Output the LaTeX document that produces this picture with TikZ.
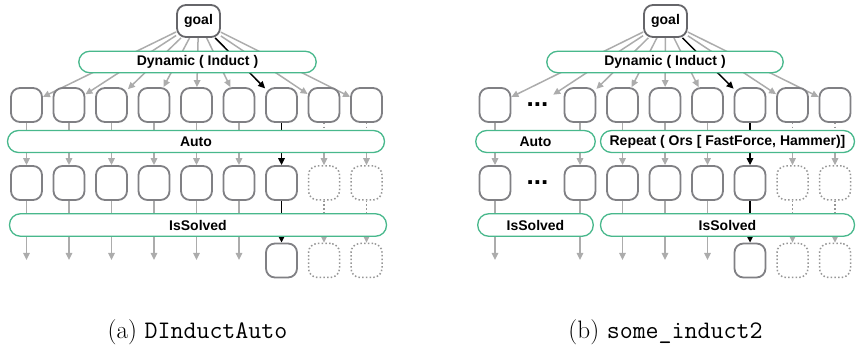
\documentclass[tikz,border=0pt]{standalone}
\usepackage{fontspec}
\setsansfont{Liberation Sans}
\usetikzlibrary{arrows.meta}
\definecolor{bargreen}{RGB}{72,184,140}
\definecolor{boxgray}{RGB}{128,128,132}
\definecolor{arrgray}{RGB}{172,172,172}
\definecolor{dotgray}{RGB}{150,150,150}
\pgfdeclarelayer{bg}
\pgfsetlayers{bg,main}
\begin{document}
\begin{tikzpicture}[x=1pt,y=-1pt,
 box/.style={draw=boxgray, line width=1.8pt, rounded corners=9pt, minimum width=31pt, minimum height=34pt, inner sep=0pt, fill=white},
 dbox/.style={draw=dotgray, line width=1.5pt, dash pattern=on 1.5pt off 2.2pt, rounded corners=9pt, minimum width=31pt, minimum height=34pt, inner sep=0pt},
 hid/.style={minimum width=31pt, minimum height=34pt, inner sep=0pt, font=\sffamily\bfseries\fontsize{26}{28}\selectfont},
 goalbox/.style={draw=boxgray!80!black, line width=1.8pt, rounded corners=9pt, minimum width=43pt, minimum height=32pt, inner sep=0pt, fill=white, font=\sffamily\bfseries\fontsize{14}{16}\selectfont},
 bar/.style={draw=bargreen, line width=1.3pt, rounded corners=11pt, minimum height=21.5pt, inner sep=0pt, fill=white, font=\sffamily\bfseries\fontsize{14}{16}\selectfont},
 ga/.style={draw=arrgray, line width=1.5pt, -{Triangle[length=7pt,width=6.5pt]}},
 ba/.style={draw=black, line width=1.5pt, -{Triangle[length=7pt,width=6.5pt]}},
 dl/.style={draw=dotgray, line width=1.5pt, dash pattern=on 1.5pt off 2.2pt},
 captxt/.style={font=\fontsize{25.2}{28}\selectfont, inner sep=0pt}
]
\useasboundingbox (0,0) rectangle (857,352);

% ---------------- left panel ----------------
\node[goalbox] (ga) at (198.5,21) {goal};
\foreach \i in {1,...,9} {
  \node[box] (a1\i) at ({-16+42.5*\i},105) {};
}
\foreach \i in {1,...,7} {
  \node[box] (a2\i) at ({-16+42.5*\i},183) {};
}
\foreach \i in {8,9} {
  \node[dbox] (a2\i) at ({-16+42.5*\i},183) {};
  \node[dbox] (a3\i) at ({-16+42.5*\i},260.5) {};
}
\foreach \i in {1,...,6} {
  \coordinate (a3\i) at ({-16+42.5*\i},260);
}
\node[box] (a37) at (281.5,260.5) {};

\node[bar, minimum width=237.5pt] (adyn) at (197.5,62) {Dynamic ( Induct )};
\node[bar, minimum width=377pt, minimum height=22pt] (aauto) at (196,141.5) {Auto};
\node[bar, minimum width=377pt, minimum height=22.5pt] (asolv) at (198,225) {IsSolved};

\begin{pgfonlayer}{bg}
\foreach \i in {1,2,3,4,5,6,8,9} { \draw[ga] (ga) -- (a1\i); }
\draw[ba] (ga) -- (a17);
\foreach \i in {1,...,6} { \draw[ga] (a1\i) -- (a2\i); }
\draw[ba] (a17) -- (a27);
\foreach \i in {8,9} {
  \draw[dl] (a1\i.south) -- (a1\i.south |- aauto.north);
  \draw[ga] (aauto.south -| a2\i) -- (a2\i.north);
}
\foreach \i in {1,...,6} { \draw[ga] (a2\i.south) -- (a3\i); }
\draw[ba] (a27) -- (a37);
\foreach \i in {8,9} {
  \draw[dl] (a2\i.south) -- (a2\i.south |- asolv.north);
  \draw[ga] (asolv.south -| a3\i) -- (a3\i.north);
}
\end{pgfonlayer}

% ---------------- right panel ----------------
\node[goalbox] (gb) at (665.5,21) {goal};
\node[box] (b11) at (495,105) {};
\node[hid] (b1d) at (537.5,105) {...};
\foreach \i in {2,...,8} {
  \node[box] (b1\i) at ({495+42.5*\i},105) {};
}
\node[box] (b21) at (495,183) {};
\node[hid] (b2d) at (537.5,183) {...};
\foreach \i in {2,...,6} {
  \node[box] (b2\i) at ({495+42.5*\i},183) {};
}
\foreach \i in {7,8} {
  \node[dbox] (b2\i) at ({495+42.5*\i},183) {};
  \node[dbox] (b3\i) at ({495+42.5*\i},260.5) {};
}
\coordinate (b31) at (495,260);
\foreach \i in {2,...,5} {
  \coordinate (b3\i) at ({495+42.5*\i},260);
}
\node[box] (b36) at (750,260.5) {};

\node[bar, minimum width=236.5pt] (bdyn) at (665,62) {Dynamic ( Induct )};
\node[bar, minimum width=119.5pt, minimum height=22pt] (bauto) at (535.5,141.5) {Auto};
\node[bar, minimum width=254pt, minimum height=22pt] (brep) at (727.5,141.5) {Repeat ( Ors [ FastForce, Hammer)]};
\node[bar, minimum width=115.5pt, minimum height=22.5pt] (bsolvl) at (535.5,225) {IsSolved};
\node[bar, minimum width=254pt, minimum height=22.5pt] (bsolvr) at (727.5,225) {IsSolved};

\begin{pgfonlayer}{bg}
\foreach \n in {1,d,2,3,4,5,7,8} { \draw[ga] (gb) -- (b1\n); }
\draw[ba] (gb) -- (b16);
\foreach \i in {1,...,5} { \draw[ga] (b1\i) -- (b2\i); }
\draw[ba] (b16) -- (b26);
\foreach \i in {7,8} {
  \draw[dl] (b1\i.south) -- (b1\i.south |- brep.north);
  \draw[ga] (brep.south -| b2\i) -- (b2\i.north);
}
\foreach \i in {1,...,5} { \draw[ga] (b2\i.south) -- (b3\i); }
\draw[ba] (b26) -- (b36);
\foreach \i in {7,8} {
  \draw[dl] (b2\i.south) -- (b2\i.south |- bsolvr.north);
  \draw[ga] (bsolvr.south -| b3\i) -- (b3\i.north);
}
\end{pgfonlayer}

% ---------------- captions ----------------
\node[captxt] (capa) at (197.5,332) {(a) \texttt{DInductAuto}};
\node[captxt] (capb) at (665.5,332) {(b) \texttt{some\_induct2}};
\end{tikzpicture}
\end{document}
